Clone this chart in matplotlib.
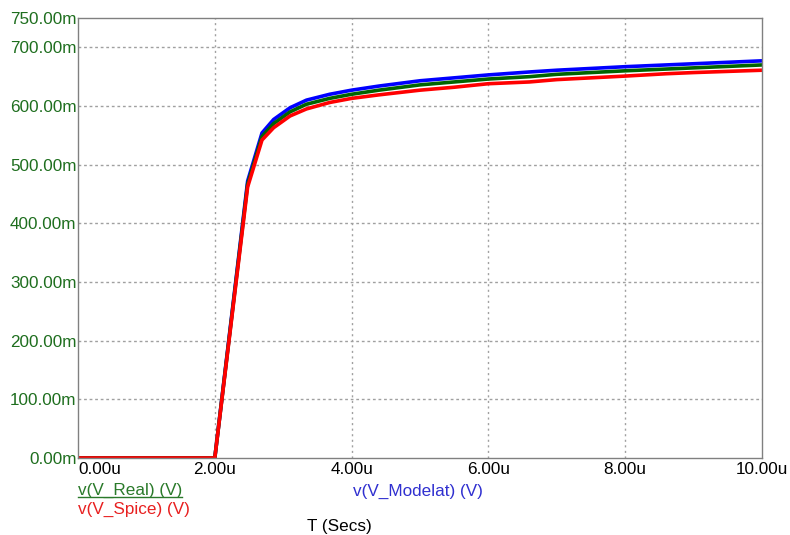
import matplotlib
matplotlib.use("Agg")
import matplotlib.pyplot as plt
from matplotlib.lines import Line2D

plt.rcParams['font.family'] = ['Liberation Sans', 'DejaVu Sans']

# time in microseconds
t_us = [0, 2.0, 2.48, 2.69, 2.86, 3.1, 3.34, 3.68, 4.0, 4.4, 5.0, 5.5, 6.0, 6.6, 7.0, 8.0, 8.6, 9.0, 10.0]
# voltages in mV
v_modelat = [0, 0, 472, 554, 577, 597, 610, 620, 627, 634, 643, 648, 653, 658, 661, 667, 670, 672, 677]
v_real    = [0, 0, 467, 548, 570, 590, 603, 613, 620, 627, 636, 641, 646, 650, 654, 660, 663, 665, 670]
v_spice   = [0, 0, 462, 542, 563, 583, 595, 606, 613, 619, 627, 632, 638, 641, 645, 651, 655, 657, 661]

x_ticks = [0, 2, 4, 6, 8, 10]
y_ticks = [0, 100, 200, 300, 400, 500, 600, 700, 750]

FS = 12.3
GREEN_TXT = '#1e6e1e'
fig = plt.figure(figsize=(7.9, 5.35), dpi=100)
ax = fig.add_axes([78/790, 77/535, (762-78)/790, (458-18)/535])

ax.plot(t_us, v_modelat, color='#0000ff', lw=2.6)
ax.plot(t_us, v_real, color='#006400', lw=2.6)
ax.plot(t_us, v_spice, color='#ff0000', lw=2.6)

ax.set_xlim(0, 10)
ax.set_ylim(0, 750)
ax.set_xticks(x_ticks)
ax.set_xticklabels([f"{v:.2f}u" for v in x_ticks])
ax.set_yticks(y_ticks)
ax.set_yticklabels([f"{v:.2f}m" for v in y_ticks])
ax.tick_params(axis='both', length=0, labelsize=FS)
ax.tick_params(axis='y', colors=GREEN_TXT, pad=1)
ax.tick_params(axis='x', colors='black', pad=3)
ax.get_xticklabels()[0].set_ha('left')

for xv in x_ticks[1:-1]:
    ax.axvline(xv, color='#a0a0a0', lw=1, ls=(0, (1.5, 2.5)), zorder=0)
for yv in y_ticks[1:-1]:
    ax.axhline(yv, color='#a0a0a0', lw=1, ls=(0, (2, 2)), zorder=0)

for s in ax.spines.values():
    s.set_color('#808080')
    s.set_linewidth(1)

W, H = 790, 535
t1 = fig.text(78/W, 1-490/H, 'v(V_Real) (V)', color='#2a7a2a', fontsize=FS, va='center', ha='left')
fig.text(78/W, 1-509/H, 'v(V_Spice) (V)', color='#e82020', fontsize=FS, va='center', ha='left')
fig.text(353/W, 1-491/H, 'v(V_Modelat) (V)', color='#3030d0', fontsize=FS, va='center', ha='left')
fig.text(307/W, 1-527/H, 'T (Secs)', color='black', fontsize=FS, va='center', ha='left')

fig.canvas.draw()
bb = t1.get_window_extent()
x0, x1 = bb.x0 / W, bb.x1 / W
yl = (bb.y0 + 1) / H
fig.add_artist(Line2D([x0, x1], [yl, yl], color='#2a7a2a', lw=1, transform=fig.transFigure))

fig.savefig('out.png', dpi=100)
